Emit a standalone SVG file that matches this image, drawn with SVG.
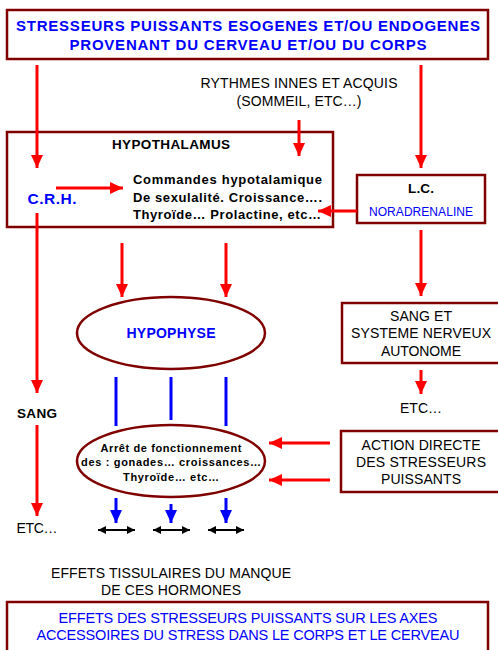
<svg xmlns="http://www.w3.org/2000/svg" width="498" height="650" viewBox="0 0 498 650">
  <style>
    .box { fill: #fff; stroke: #800000; stroke-width: 2.5; }
    .red { stroke: #ff0000; stroke-width: 3; fill: none; }
    .blue { stroke: #0000ff; stroke-width: 3; fill: none; }
    .blk { stroke: #000; stroke-width: 2; fill: none; }
    text { font-family: "Liberation Sans", Arial, sans-serif; text-anchor: middle; }
    .tb { fill: #0000ff; font-weight: bold; font-size: 15px; }
    .tbl { fill: #0000ff; font-size: 14.5px; }
    .k { fill: #000; font-size: 14px; }
    .kb { fill: #000; font-weight: bold; }
    .bl { fill: #0000ff; }
    .st { text-anchor: start; }
  </style>
  <defs>
    <marker id="ar" markerUnits="userSpaceOnUse" markerWidth="13" markerHeight="12" refX="13" refY="6" orient="auto">
      <path d="M0,0 L13,6 L0,12 z" fill="#ff0000"/>
    </marker>
    <marker id="ab" markerUnits="userSpaceOnUse" markerWidth="13" markerHeight="12" refX="13" refY="6" orient="auto">
      <path d="M0,0 L13,6 L0,12 z" fill="#0000ff"/>
    </marker>
    <marker id="ak" markerUnits="userSpaceOnUse" markerWidth="8" markerHeight="8" refX="8" refY="4" orient="auto-start-reverse">
      <path d="M0,0 L8,4 L0,8 z" fill="#000"/>
    </marker>
  </defs>

  <g id="stresseurs">
    <rect class="box" x="7" y="10" width="481" height="49"/>
    <text class="tb" x="248" y="31" textLength="464">STRESSEURS PUISSANTS ESOGENES ET/OU ENDOGENES</text>
    <text class="tb" x="248" y="50" textLength="357">PROVENANT DU CERVEAU ET/OU DU CORPS</text>
  </g>

  <g id="rythmes">
    <text class="k" x="299" y="88" textLength="197">RYTHMES INNES ET ACQUIS</text>
    <text class="k" x="299" y="106" textLength="125">(SOMMEIL, ETC…)</text>
  </g>

  <g id="hypothalamus">
    <rect class="box" x="7" y="132" width="326" height="95"/>
    <text class="kb" x="171" y="149" font-size="13.5px" textLength="118">HYPOTHALAMUS</text>
    <text class="kb bl" x="52" y="204" font-size="15.5px" textLength="49">C.R.H.</text>
    <g class="kb" font-size="13px">
      <text class="st" x="133" y="184" textLength="189">Commandes hypotalamique</text>
      <text class="st" x="133" y="202" textLength="189">De sexulalité. Croissance….</text>
      <text class="st" x="133" y="219" textLength="188">Thyroïde… Prolactine, etc…</text>
    </g>
  </g>

  <g id="lc">
    <rect class="box" x="357" y="175" width="128" height="48"/>
    <text class="kb" x="421" y="193" font-size="13.5px" textLength="26">L.C.</text>
    <text class="bl" x="421" y="216" font-size="12px" textLength="104">NORADRENALINE</text>
  </g>

  <g id="sang-sna">
    <rect class="box" x="342" y="303" width="160" height="60"/>
    <text class="k" x="421" y="321" textLength="62">SANG ET</text>
    <text class="k" x="421" y="338" textLength="140">SYSTEME NERVEUX</text>
    <text class="k" x="421" y="356" textLength="80">AUTONOME</text>
  </g>

  <g id="hypophyse">
    <ellipse class="box" cx="171" cy="333" rx="94" ry="36"/>
    <text class="kb bl" x="171" y="338" font-size="14px" textLength="89">HYPOPHYSE</text>
  </g>

  <g id="arret">
    <ellipse class="box" cx="171" cy="461" rx="94" ry="36"/>
    <g class="kb" font-size="11px">
      <text x="171" y="452" textLength="141">Arrêt de fonctionnement</text>
      <text x="171" y="466" textLength="180">des : gonades… croissances…</text>
      <text x="171" y="481" textLength="96">Thyroïde… etc…</text>
    </g>
  </g>

  <g id="action-directe">
    <rect class="box" x="341" y="431" width="161" height="61"/>
    <text class="k" x="421" y="450" textLength="119">ACTION DIRECTE</text>
    <text class="k" x="421" y="467" textLength="130">DES STRESSEURS</text>
    <text class="k" x="421" y="484" textLength="80">PUISSANTS</text>
  </g>

  <g id="labels">
    <text class="kb" x="37" y="418" font-size="13.5px" textLength="40">SANG</text>
    <text class="k" x="37" y="533" textLength="41">ETC…</text>
    <text class="k" x="421" y="413" textLength="42">ETC…</text>
    <text class="k" x="171" y="578" textLength="240">EFFETS TISSULAIRES DU MANQUE</text>
    <text class="k" x="171" y="595" textLength="140">DE CES HORMONES</text>
  </g>

  <g id="effets">
    <rect class="box" x="7" y="602" width="481" height="60"/>
    <text class="tbl" x="248" y="623" textLength="379">EFFETS DES STRESSEURS PUISSANTS SUR LES AXES</text>
    <text class="tbl" x="248" y="640" textLength="423">ACCESSOIRES DU STRESS DANS LE CORPS ET LE CERVEAU</text>
  </g>

  <g id="connectors">
    <line class="red" x1="37" y1="65" x2="37" y2="168" marker-end="url(#ar)"/>
    <line class="red" x1="421" y1="65" x2="421" y2="168" marker-end="url(#ar)"/>
    <line class="red" x1="299" y1="120" x2="299" y2="156" marker-end="url(#ar)"/>
    <line class="red" x1="56" y1="188" x2="123" y2="188" marker-end="url(#ar)"/>
    <line class="red" x1="357" y1="211" x2="318" y2="211" marker-end="url(#ar)"/>
    <line class="red" x1="37" y1="213" x2="37" y2="393" marker-end="url(#ar)"/>
    <line class="red" x1="37" y1="425" x2="37" y2="516" marker-end="url(#ar)"/>
    <line class="red" x1="122" y1="243" x2="122" y2="297" marker-end="url(#ar)"/>
    <line class="red" x1="226" y1="243" x2="226" y2="297" marker-end="url(#ar)"/>
    <line class="red" x1="421" y1="230" x2="421" y2="296" marker-end="url(#ar)"/>
    <line class="red" x1="421" y1="370" x2="421" y2="394" marker-end="url(#ar)"/>
    <line class="red" x1="330" y1="443" x2="269" y2="443" marker-end="url(#ar)"/>
    <line class="red" x1="330" y1="480" x2="269" y2="480" marker-end="url(#ar)"/>
    <line class="blue" x1="116" y1="377" x2="116" y2="426"/>
    <line class="blue" x1="171" y1="377" x2="171" y2="420"/>
    <line class="blue" x1="226" y1="377" x2="226" y2="426"/>
    <line class="blue" x1="116" y1="498" x2="116" y2="523" marker-end="url(#ab)"/>
    <line class="blue" x1="171" y1="504" x2="171" y2="523" marker-end="url(#ab)"/>
    <line class="blue" x1="226" y1="498" x2="226" y2="523" marker-end="url(#ab)"/>
    <line class="blk" x1="98" y1="530" x2="135" y2="530" marker-start="url(#ak)" marker-end="url(#ak)"/>
    <line class="blk" x1="153" y1="530" x2="190" y2="530" marker-start="url(#ak)" marker-end="url(#ak)"/>
    <line class="blk" x1="208" y1="530" x2="244" y2="530" marker-start="url(#ak)" marker-end="url(#ak)"/>
  </g>
</svg>
